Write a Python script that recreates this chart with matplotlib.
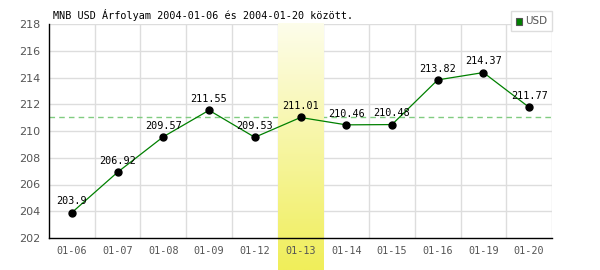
import numpy as np
import matplotlib
matplotlib.use("Agg")
import matplotlib.pyplot as plt
from matplotlib.colors import LinearSegmentedColormap
import matplotlib.transforms as mtransforms

dates = ["01-06", "01-07", "01-08", "01-09", "01-12", "01-13",
         "01-14", "01-15", "01-16", "01-19", "01-20"]
usd = [203.9, 206.92, 209.57, 211.55, 209.53, 211.01,
       210.46, 210.48, 213.82, 214.37, 211.77]
highlight = 5
yticks = [202, 204, 206, 208, 210, 212, 214, 216, 218]
title = "MNB USD Árfolyam 2004-01-06 és 2004-01-20 között."

mono = "DejaVu Sans Mono"
fs = 7.3

fig = plt.figure(figsize=(6, 2.7), dpi=100)
ax = fig.add_axes([49 / 600, 32 / 270, 503 / 600, 214 / 270])
x = np.arange(len(dates))

ax.set_xlim(-0.5, len(dates) - 0.5)
ax.set_ylim(yticks[0], yticks[-1])

# highlighted day: yellow gradient running below the axes, over the grid
cmap = LinearSegmentedColormap.from_list("hl", ["#fdfdea", "#f0ee5a"])
grad = np.linspace(0, 1, 100).reshape(-1, 1)
trans = mtransforms.blended_transform_factory(ax.transData, ax.transAxes)
ax.imshow(grad, cmap=cmap, aspect="auto", origin="upper",
          extent=[highlight - 0.5, highlight + 0.5, -0.15, 1.0],
          transform=trans, clip_on=False, zorder=1.2)

# grid
for yv in yticks[1:]:
    ax.axhline(yv, color="#dddddd", lw=1, zorder=1)
for xv in np.arange(0.5, len(dates), 1):
    ax.axvline(xv, color="#dddddd", lw=1, zorder=1)

ax.axhline(usd[highlight], color="#80cc80", lw=1, ls=(0, (4, 3)), zorder=1.1)

ax.plot(x, usd, color="#008000", lw=0.9, zorder=3)
ax.plot(x, usd, "o", color="black", ms=5, zorder=4)
for xi, v in zip(x, usd):
    ax.annotate(f"{v:g}", (xi, v), xytext=(0, 4.5), textcoords="offset points",
                ha="center", va="bottom", fontsize=fs, family=mono, zorder=5)

ax.set_xticks(x)
ax.set_xticklabels(dates, family=mono, fontsize=fs, color="#555555")
ax.set_yticks(yticks)
ax.set_yticklabels([str(t) for t in yticks], fontsize=8, color="#555555")
ax.tick_params(length=0, pad=6)
for s in ["top", "right"]:
    ax.spines[s].set_visible(False)
for s in ["left", "bottom"]:
    ax.spines[s].set_color("black")
    ax.spines[s].set_linewidth(1)
    ax.spines[s].set_zorder(6)
ax.set_facecolor("white")

fig.text(53 / 600, 1 - 15 / 270, title, family=mono, fontsize=fs,
         va="center", ha="left")

# legend box
fig.patches.append(plt.Rectangle((511 / 600, 1 - 31 / 270), 41 / 600, 20 / 270,
                                 transform=fig.transFigure, fc="white",
                                 ec="#dddddd", lw=1))
fig.patches.append(plt.Rectangle((516 / 600, 1 - 24.5 / 270), 6 / 600, 6 / 270,
                                 transform=fig.transFigure, fc="#008000",
                                 ec="#555555", lw=0.8))
fig.text(525 / 600, 1 - 21.5 / 270, "USD", fontsize=7.5, color="#555555",
         va="center", ha="left")

fig.savefig("out.png", dpi=100)
